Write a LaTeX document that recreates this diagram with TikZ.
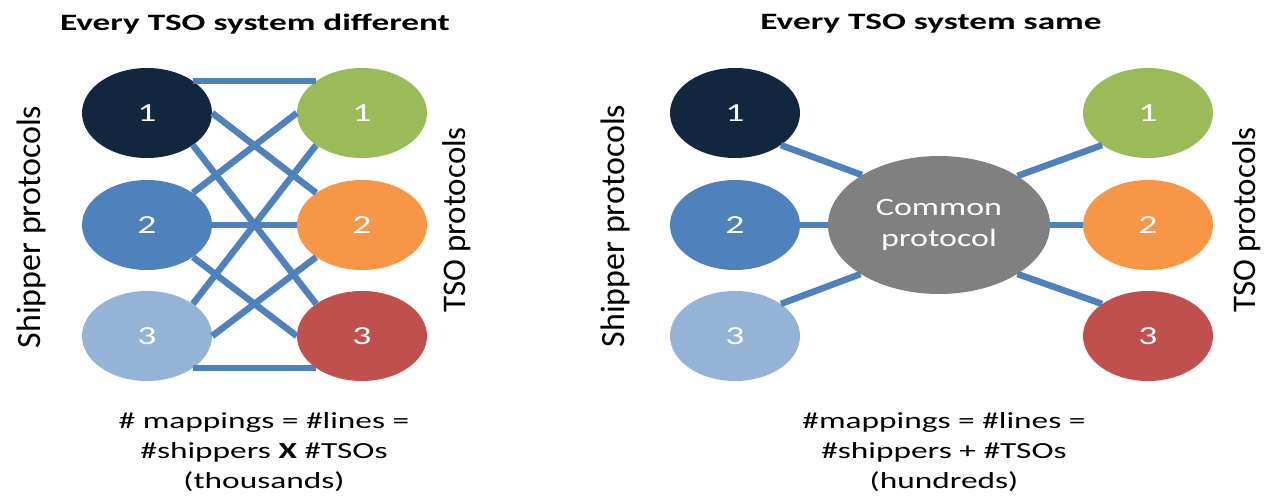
\documentclass[tikz,border=0pt]{standalone}
\usepackage{fontspec}
\setmainfont{Carlito}
\usetikzlibrary{shapes.geometric}
\definecolor{cnavy}{HTML}{13263F}
\definecolor{cblue}{HTML}{4F81BD}
\definecolor{clight}{HTML}{95B3D7}
\definecolor{cgreen}{HTML}{9BBB59}
\definecolor{corange}{HTML}{F79646}
\definecolor{cred}{HTML}{C0504D}
\definecolor{cgray}{HTML}{808080}
\newcommand{\hs}[1]{\scalebox{1.45}[1]{#1}}
\newcommand{\ts}[1]{\scalebox{1.5}[1]{#1}}
\begin{document}
\begin{tikzpicture}[x=1pt,y=-1pt,
  oval/.style={ellipse, minimum width=130pt, minimum height=90pt, inner sep=0pt,
    text=white, font=\fontsize{26}{30}\selectfont},
  link/.style={line width=6.5pt, draw=cblue},
  titletext/.style={inner sep=0pt, font=\fontsize{23.5}{28}\selectfont\bfseries},
  sidetext/.style={inner sep=0pt, rotate=90, font=\fontsize{34}{40}\selectfont},
  tsotext/.style={inner sep=0pt, rotate=90, font=\fontsize{33}{38}\selectfont},
  bottomtext/.style={inner sep=0pt, anchor=base, font=\fontsize{23}{28}\selectfont}]
\useasboundingbox (0,0) rectangle (1268,495);
% ---------- left diagram ----------
\node[titletext] (lt) at (255,24) {\ts{Every TSO system different}};
\node[sidetext] (lsp) at (31,227) {Shipper protocols};
\node[tsotext] (ltp) at (457,220) {TSO protocols};
\node[oval, fill=cnavy]  (s1) at (147,113) {\hs{1}};
\node[oval, fill=cblue]  (s2) at (147,225) {\hs{2}};
\node[oval, fill=clight] (s3) at (147,336) {\hs{3}};
\node[oval, fill=cgreen]  (t1) at (362,113) {\hs{1}};
\node[oval, fill=corange] (t2) at (362,225) {\hs{2}};
\node[oval, fill=cred]    (t3) at (362,336) {\hs{3}};
\draw[link] (s1.35) -- (t1.145);
\draw[link] (s1.0) -- (t2.145);
\draw[link] (s1.-35) -- (t3.145);
\draw[link] (s2.35) -- (t1.180);
\draw[link] (s2.0) -- (t2.180);
\draw[link] (s2.-35) -- (t3.180);
\draw[link] (s3.35) -- (t1.215);
\draw[link] (s3.0) -- (t2.215);
\draw[link] (s3.-35) -- (t3.215);
\node[bottomtext] (lb1) at (264,428) {\hs{\# mappings = \#lines =}};
\node[bottomtext] (lb2) at (264,458) {\hs{\#shippers \textbf{X} \#TSOs}};
\node[bottomtext] (lb3) at (264,488) {\hs{(thousands)}};
% ---------- right diagram ----------
\node[titletext] (rt) at (931,24) {\ts{Every TSO system same}};
\node[sidetext] (rsp) at (615,226) {Shipper protocols};
\node[tsotext] (rtp) at (1247,220) {TSO protocols};
\node[oval, fill=cnavy]  (rs1) at (735,113) {\hs{1}};
\node[oval, fill=cblue]  (rs2) at (735,225) {\hs{2}};
\node[oval, fill=clight] (rs3) at (735,336) {\hs{3}};
\node[oval, fill=cgreen]  (rt1) at (1148,113) {\hs{1}};
\node[oval, fill=corange] (rt2) at (1148,225) {\hs{2}};
\node[oval, fill=cred]    (rt3) at (1148,336) {\hs{3}};
\node[ellipse, fill=cgray, minimum width=222pt, minimum height=138pt, inner sep=0pt,
  text=white, align=center, font=\fontsize{25}{31}\selectfont] (cp) at (939,225)
  {\scalebox{1.36}[1]{Common}\\\scalebox{1.36}[1]{protocol}};
\draw[link] (rs1.-35) -- (cp.147.7);
\draw[link] (rs2.0) -- (cp.180);
\draw[link] (rs3.35) -- (cp.212.3);
\draw[link] (cp.32.3) -- (rt1.215);
\draw[link] (cp.0) -- (rt2.180);
\draw[link] (cp.-32.3) -- (rt3.145);
\node[bottomtext] (rb1) at (944,428) {\hs{\#mappings = \#lines =}};
\node[bottomtext] (rb2) at (944,458) {\hs{\#shippers + \#TSOs}};
\node[bottomtext] (rb3) at (944,488) {\hs{(hundreds)}};
\end{tikzpicture}
\end{document}
